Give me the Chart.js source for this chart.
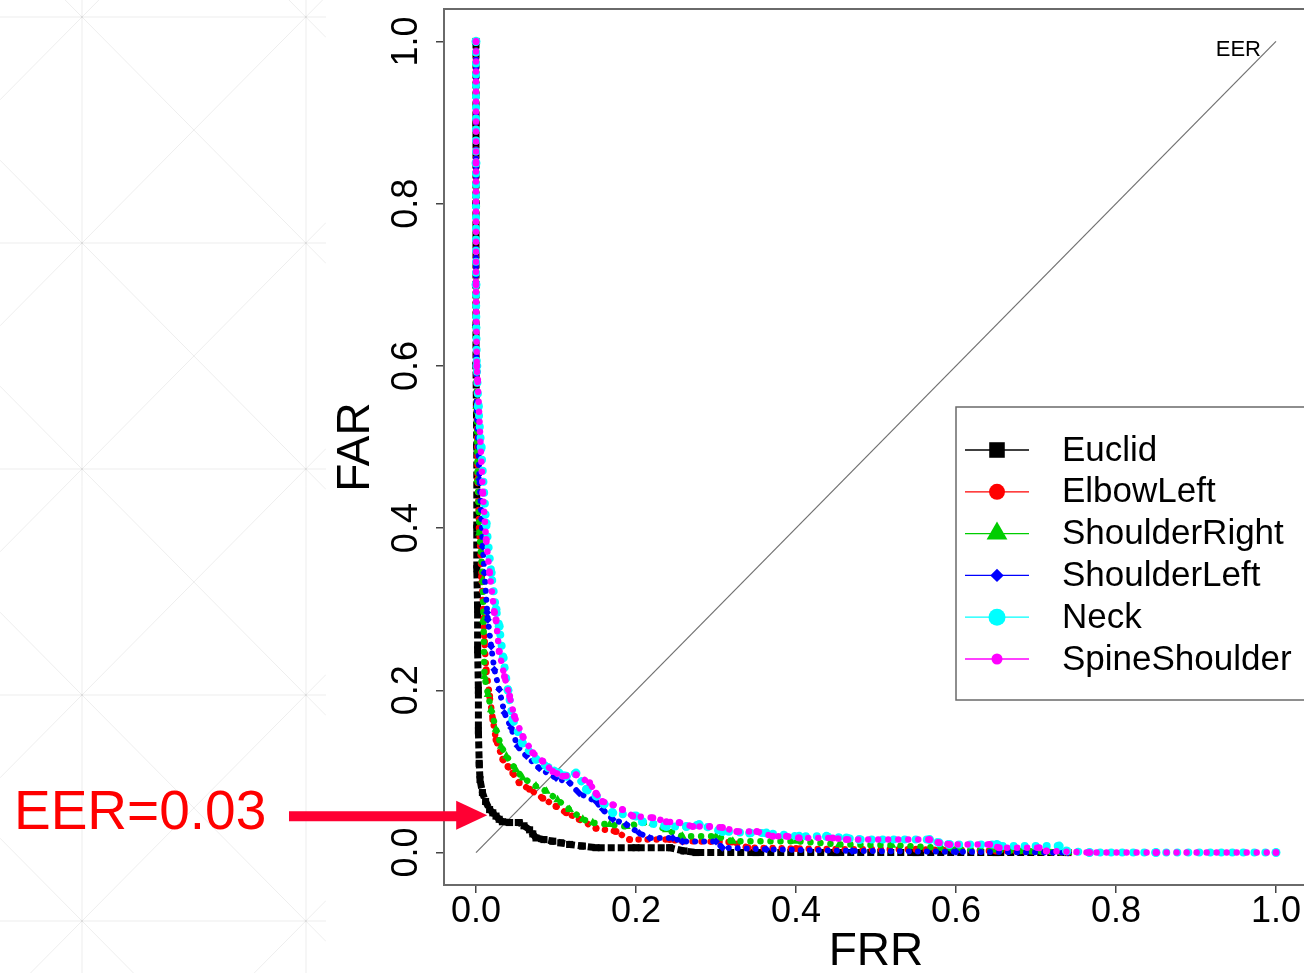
<!DOCTYPE html>
<html>
<head>
<meta charset="utf-8">
<script src="https://cdn.jsdelivr.net/npm/chart.js@4.4.1/dist/chart.umd.min.js"></script>
<style>
  html, body { margin: 0; padding: 0; background: #fff; overflow: hidden; }
  #wrap { width: 1304px; height: 973px; overflow: hidden; position: relative; }
  canvas { display: block; }
</style>
</head>
<body>
<div id="wrap"><canvas id="rocChart" width="1320" height="973"></canvas></div>
<script>
// FRR (x) / FAR (y) pairs
const seriesNames = ['Euclid', 'ElbowLeft', 'ShoulderRight', 'ShoulderLeft', 'Neck', 'SpineShoulder'];

const frrEuclid = [0, 0, 0, 0, 0, 0.001, 0.001, 0.001, 0.002, 0.002, 0.003, 0.003, 0.004, 0.005, 0.008, 0.012, 0.017, 0.021, 0.025, 0.029, 0.033, 0.042, 0.054, 0.060, 0.067, 0.071, 0.075, 0.085, 0.096, 0.106, 0.117, 0.133, 0.150, 0.200, 0.242, 0.260, 0.275, 0.350, 0.450, 0.550, 0.650, 0.740];
const farEuclid = [1.0, 0.9, 0.8, 0.7, 0.6, 0.5, 0.4, 0.35, 0.3, 0.25, 0.2, 0.15, 0.11, 0.09, 0.074, 0.063, 0.053, 0.049, 0.045, 0.041, 0.038, 0.037, 0.037, 0.033, 0.028, 0.023, 0.018, 0.016, 0.014, 0.012, 0.010, 0.008, 0.006, 0.006, 0.006, 0.002, 0, 0, 0, 0, 0, 0];

const frrElbowLeft = [0, 0, 0, 0.001, 0.002, 0.004, 0.007, 0.0098, 0.0106, 0.0127, 0.017, 0.021, 0.025, 0.0335, 0.040, 0.046, 0.054, 0.067, 0.0835, 0.100, 0.113, 0.129, 0.150, 0.175, 0.192, 0.242, 0.258, 0.320, 0.340, 0.400, 0.450, 0.550, 0.650, 0.740];
const farElbowLeft = [1.0, 0.8, 0.65, 0.55, 0.46, 0.40, 0.34, 0.287, 0.26, 0.2255, 0.193, 0.164, 0.139, 0.115, 0.106, 0.098, 0.086, 0.078, 0.067, 0.057, 0.049, 0.041, 0.030, 0.026, 0.016, 0.016, 0.014, 0.013, 0.006, 0.005, 0.004, 0.004, 0.002, 0];

const frrShoulderRight = [0, 0, 0, 0.001, 0.002, 0.0044, 0.0085, 0.0094, 0.0106, 0.015, 0.019, 0.025, 0.0315, 0.038, 0.050, 0.0585, 0.075, 0.088, 0.102, 0.117, 0.1335, 0.146, 0.167, 0.188, 0.2085, 0.221, 0.238, 0.258, 0.300, 0.321, 0.400, 0.454, 0.520, 0.600, 0.650, 0.740];
const farShoulderRight = [1.0, 0.8, 0.65, 0.55, 0.46, 0.394, 0.336, 0.287, 0.217, 0.195, 0.176, 0.152, 0.131, 0.119, 0.102, 0.092, 0.082, 0.0755, 0.065, 0.053, 0.041, 0.0366, 0.0345, 0.032, 0.037, 0.036, 0.028, 0.020, 0.020, 0.014, 0.014, 0.010, 0.009, 0.005, 0.003, 0];

const frrShoulderLeft = [0, 0, 0, 0.001, 0.0044, 0.0085, 0.0106, 0.014, 0.0148, 0.019, 0.023, 0.029, 0.0356, 0.044, 0.052, 0.063, 0.079, 0.100, 0.117, 0.129, 0.150, 0.1585, 0.171, 0.188, 0.204, 0.217, 0.246, 0.258, 0.300, 0.308, 0.363, 0.470, 0.600, 0.740];
const farShoulderLeft = [1.0, 0.8, 0.65, 0.55, 0.46, 0.377, 0.345, 0.296, 0.287, 0.254, 0.2255, 0.201, 0.172, 0.1536, 0.131, 0.119, 0.104, 0.092, 0.086, 0.073, 0.063, 0.053, 0.041, 0.0345, 0.024, 0.018, 0.018, 0.0135, 0.0135, 0.006, 0.004, 0.002, 0.001, 0];

const frrNeck = [0, 0, 0, 0.001, 0.003, 0.0065, 0.0127, 0.019, 0.025, 0.029, 0.034, 0.040, 0.046, 0.058, 0.075, 0.090, 0.104, 0.113, 0.125, 0.138, 0.150, 0.160, 0.171, 0.200, 0.208, 0.238, 0.263, 0.279, 0.308, 0.342, 0.363, 0.404, 0.438, 0.463, 0.479, 0.567, 0.579, 0.592, 0.651, 0.654, 0.729, 0.738, 0.767, 0.850, 1.0];
const farNeck = [1.0, 0.85, 0.7, 0.6, 0.55, 0.50, 0.406, 0.345, 0.30, 0.279, 0.24, 0.20, 0.164, 0.135, 0.115, 0.105, 0.098, 0.094, 0.098, 0.078, 0.070, 0.060, 0.049, 0.045, 0.038, 0.032, 0.032, 0.0345, 0.026, 0.024, 0.024, 0.020, 0.020, 0.018, 0.016, 0.016, 0.012, 0.010, 0.010, 0.008, 0.008, 0.002, 0, 0, 0];

const frrSpineShoulder = [0, 0, 0, 0.001, 0.002, 0.0085, 0.0127, 0.017, 0.023, 0.025, 0.029, 0.0356, 0.042, 0.048, 0.0585, 0.071, 0.0835, 0.096, 0.1085, 0.125, 0.142, 0.150, 0.158, 0.171, 0.183, 0.196, 0.221, 0.238, 0.254, 0.271, 0.292, 0.308, 0.326, 0.351, 0.371, 0.388, 0.404, 0.446, 0.463, 0.567, 0.579, 0.592, 0.642, 0.654, 0.704, 0.713, 0.767, 0.850, 1.0];
const farSpineShoulder = [1.0, 0.85, 0.7, 0.6, 0.583, 0.443, 0.386, 0.345, 0.296, 0.287, 0.248, 0.217, 0.193, 0.168, 0.143, 0.123, 0.1125, 0.100, 0.094, 0.096, 0.086, 0.073, 0.063, 0.059, 0.053, 0.045, 0.043, 0.038, 0.037, 0.032, 0.032, 0.031, 0.026, 0.026, 0.020, 0.020, 0.018, 0.018, 0.016, 0.016, 0.012, 0.010, 0.010, 0.006, 0.006, 0.002, 0, 0, 0];

// equal error line
const eerFrr = [0, 1];
const eerFar = [0, 1];
const eerValue = 0.03;

const xTickValues = [0, 0.2, 0.4, 0.6, 0.8, 1.0];
const yTickValues = [0, 0.2, 0.4, 0.6, 0.8, 1.0];

const seriesFrr = [frrEuclid, frrElbowLeft, frrShoulderRight, frrShoulderLeft, frrNeck, frrSpineShoulder];
const seriesFar = [farEuclid, farElbowLeft, farShoulderRight, farShoulderLeft, farNeck, farSpineShoulder];

// look of each curve (plot) and of its legend key
const styles = [
    { color: '#000000', marker: 'rect',     r: 5,   key: 11,  width: 7,   dash: [7, 3],     cap: 'butt' },
    { color: '#ff0000', marker: 'circle',   r: 3.5, key: 8,   width: 6.5, dash: [0.01, 9],  cap: 'round' },
    { color: '#00cd00', marker: 'triangle', r: 5,   key: 12,  width: 6.5, dash: [0.01, 10], cap: 'round' },
    { color: '#0000ff', marker: 'rectRot',  r: 4,   key: 6.7, width: 6,   dash: [0.01, 9],  cap: 'round' },
    { color: '#00ffff', marker: 'circle',   r: 4.5, key: 8.5, width: 8,   dash: [0.01, 11], cap: 'round' },
    { color: '#ff00ff', marker: 'circle',   r: 3.5, key: 5.5, width: 6.5, dash: [0.01, 10], cap: 'round' }
];

const FONT = '"Liberation Sans", Arial, sans-serif';
const toPoints = (xs, ys) => xs.map((x, i) => ({ x: x, y: ys[i] }));

const datasets = seriesNames.map((name, i) => ({
    label: name,
    data: toPoints(seriesFrr[i], seriesFar[i]),
    showLine: true,
    borderColor: styles[i].color,
    backgroundColor: styles[i].color,
    borderWidth: styles[i].width,
    borderDash: styles[i].dash,
    borderCapStyle: styles[i].cap,
    pointStyle: styles[i].marker,
    pointRadius: styles[i].r,
    pointBorderWidth: 0,
    order: seriesNames.length - i
}));
datasets.push({
    label: 'EER',
    data: toPoints(eerFrr, eerFar),
    showLine: true,
    borderColor: '#707070',
    borderWidth: 1.2,
    pointRadius: 0,
    order: 10
});

// slide background: faint triangle lattice on the left
const backdrop = {
    id: 'backdrop',
    beforeDraw(chart) {
        const ctx = chart.ctx;
        ctx.save();
        ctx.fillStyle = '#ffffff';
        ctx.fillRect(0, 0, chart.width, chart.height);
        ctx.beginPath();
        ctx.rect(0, 0, 326, chart.height);
        ctx.clip();
        ctx.strokeStyle = 'rgba(0,0,0,0.07)';
        ctx.lineWidth = 1;
        ctx.beginPath();
        for (let k = -3; k < 8; k++) {
            const y0 = 17 + 226 * k;
            ctx.moveTo(0, y0); ctx.lineTo(326, y0);
            ctx.moveTo(0, y0 - 82 * 1.01); ctx.lineTo(326, y0 + 244 * 1.01);
            ctx.moveTo(0, y0 + 82 * 1.01); ctx.lineTo(326, y0 - 244 * 1.01);
        }
        ctx.moveTo(82, 0); ctx.lineTo(82, chart.height);
        ctx.moveTo(306, 0); ctx.lineTo(306, chart.height);
        ctx.stroke();
        ctx.restore();
    }
};

const decorations = {
    id: 'decorations',
    afterDraw(chart) {
        const ctx = chart.ctx;
        const area = chart.chartArea;
        const xs = chart.scales.x;
        const ys = chart.scales.y;
        ctx.save();

        // box around the plot
        ctx.strokeStyle = '#6a6a6a';
        ctx.lineWidth = 2;
        ctx.strokeRect(area.left, area.top, area.right - area.left, area.bottom - area.top);

        // tick labels
        ctx.fillStyle = '#000';
        ctx.font = '36px ' + FONT;
        ctx.textAlign = 'center';
        ctx.textBaseline = 'middle';
        xTickValues.forEach(v => {
            ctx.fillText(v.toFixed(1), xs.getPixelForValue(v), 912);
        });
        yTickValues.forEach(v => {
            ctx.save();
            ctx.translate(407, ys.getPixelForValue(v));
            ctx.rotate(-Math.PI / 2);
            ctx.fillText(v.toFixed(1), 0, 0);
            ctx.restore();
        });

        // axis titles
        ctx.font = '46px ' + FONT;
        ctx.fillText('FRR', (area.left + area.right) / 2, 952);
        ctx.save();
        ctx.translate(356, (area.top + area.bottom) / 2);
        ctx.rotate(-Math.PI / 2);
        ctx.fillText('FAR', 0, 0);
        ctx.restore();

        // label at the end of the EER line
        ctx.font = '22px ' + FONT;
        ctx.textAlign = 'right';
        ctx.fillText('EER', xs.getPixelForValue(eerFrr[1]) - 15, ys.getPixelForValue(eerFar[1]) + 8);

        // legend
        const lx = 956, ly = 407, rowGap = 41.8;
        ctx.fillStyle = '#fff';
        ctx.fillRect(lx, ly, 400, 293);
        ctx.strokeStyle = '#6a6a6a';
        ctx.lineWidth = 1.5;
        ctx.strokeRect(lx, ly, 400, 293);
        ctx.font = '35px ' + FONT;
        ctx.textAlign = 'left';
        seriesNames.forEach((name, i) => {
            const y = 450 + i * rowGap;
            ctx.strokeStyle = styles[i].color;
            ctx.lineWidth = 1.3;
            ctx.beginPath();
            ctx.moveTo(965, y); ctx.lineTo(1029, y);
            ctx.stroke();
            ctx.fillStyle = styles[i].color;
            Chart.helpers.drawPoint(ctx, { pointStyle: styles[i].marker, radius: styles[i].key, rotation: 0, borderWidth: 0 }, 997, y);
            ctx.fillStyle = '#000';
            ctx.fillText(name, 1062, y + 1);
        });

        // EER annotation with arrow pointing at the crossing
        const tipX = xs.getPixelForValue(0.014);
        const tipY = ys.getPixelForValue(0.046);
        ctx.fillStyle = '#ff0000';
        ctx.font = '55px ' + FONT;
        ctx.textAlign = 'left';
        ctx.textBaseline = 'alphabetic';
        ctx.fillText('EER=' + eerValue.toFixed(2), 14, 829);
        ctx.fillStyle = '#ff0033';
        ctx.fillRect(289, tipY - 4, tipX - 30 - 289, 10);
        ctx.beginPath();
        ctx.moveTo(tipX, tipY);
        ctx.lineTo(tipX - 31, tipY - 14.5);
        ctx.lineTo(tipX - 31, tipY + 14.5);
        ctx.closePath();
        ctx.fill();

        ctx.restore();
    }
};

new Chart(document.getElementById('rocChart').getContext('2d'), {
    type: 'scatter',
    data: { datasets: datasets },
    options: {
        responsive: false,
        animation: false,
        layout: { padding: { top: 9, right: 12, left: 0, bottom: 0 } },
        plugins: { legend: { display: false }, tooltip: { enabled: false } },
        scales: {
            x: {
                type: 'linear',
                min: -0.04,
                max: 1.04,
                afterBuildTicks: s => { s.ticks = xTickValues.map(v => ({ value: v })); },
                afterFit: s => { s.height = 88; },
                ticks: { display: false },
                grid: { drawOnChartArea: false, drawTicks: true, tickLength: 8, color: '#444', lineWidth: 1.5 },
                border: { display: false }
            },
            y: {
                type: 'linear',
                min: -0.04,
                max: 1.04,
                afterBuildTicks: s => { s.ticks = yTickValues.map(v => ({ value: v })); },
                afterFit: s => { s.width = 444; },
                ticks: { display: false },
                grid: { drawOnChartArea: false, drawTicks: true, tickLength: 8, color: '#444', lineWidth: 1.5 },
                border: { display: false }
            }
        }
    },
    plugins: [backdrop, decorations]
});
</script>
</body>
</html>
